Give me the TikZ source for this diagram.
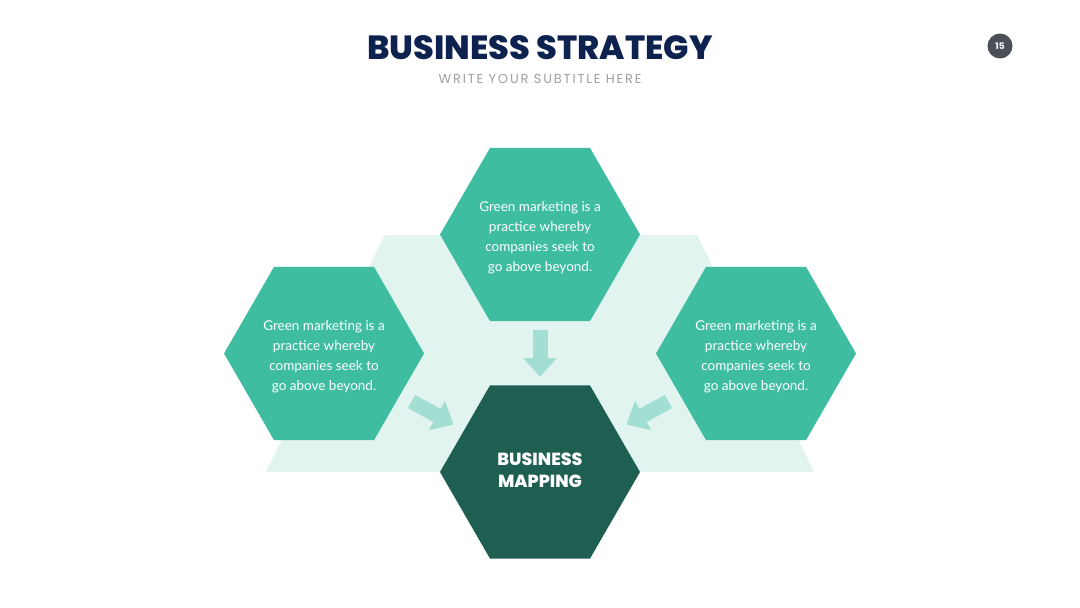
\documentclass[tikz,border=0pt]{standalone}
\usepackage{fontspec}
\setmainfont{Lato}
\newfontfamily\popfont{Poppins}
\newfontfamily\popxb{Poppins ExtraBold}
\usetikzlibrary{shapes.geometric,arrows.meta,calc}
\definecolor{hexteal}{HTML}{3EBDA1}
\definecolor{hubgreen}{HTML}{1F5F52}
\definecolor{lightbg}{HTML}{E1F4EF}
\definecolor{arrowc}{HTML}{A2DED1}
\definecolor{navy}{HTML}{0E2250}
\definecolor{subgray}{HTML}{A0A0A0}
\definecolor{pgray}{HTML}{4B4F56}
\newcommand{\greentext}{\rule{0pt}{16pt}Green marketing is a\\practice whereby\\companies seek to\\go above beyond.}
\begin{document}
\begin{tikzpicture}[x=1pt,y=-1pt,
  hexa/.style={regular polygon, regular polygon sides=6, minimum size=200pt,
    inner sep=0pt, fill=hexteal, text=white, align=center,
    font=\fontsize{13.5}{20}\selectfont},
  flow/.style={draw=arrowc, line width=15pt, -{Triangle[width=32pt,length=19pt]}}]
\useasboundingbox (0,0) rectangle (1080,608);
\fill[white] (0,0) rectangle (1080,608);
% title
\node[font=\popxb\fontsize{33.5}{38}\selectfont, text=navy] (title) at (540,48) {BUSINESS STRATEGY};
\node[font=\popfont\fontsize{13}{15}\selectfont, text=subgray] (sub) at (540,79) {\addfontfeatures{LetterSpace=14}WRITE YOUR SUBTITLE HERE};
\node[circle, fill=pgray, minimum size=25pt, inner sep=0pt, text=white,
  font=\popfont\bfseries\fontsize{9}{10}\selectfont] (pg) at (1000,46) {15};
% background band
\fill[lightbg] (385,235) -- (697,235) -- (814,471.5) -- (266,471.5) -- cycle;
% hexagons
\node[hexa] (top) at (540,234.5) {\greentext};
\node[hexa] (left) at (324,353.5) {\greentext};
\node[hexa] (right) at (756,353.5) {\greentext};
\node[hexa, fill=hubgreen, font=\popxb\fontsize{17.5}{22}\selectfont] (hub) at (540,472) {BUSINESS\\MAPPING\rule[-4pt]{0pt}{4pt}};
% arrows
\draw[flow] ($(top)!0.4!(hub)$) -- ($(top)!0.6!(hub)$);
\draw[flow] ($(left)!0.405!(hub)$) -- ($(left)!0.6!(hub)$);
\draw[flow] ($(right)!0.405!(hub)$) -- ($(right)!0.6!(hub)$);
\end{tikzpicture}
\end{document}
